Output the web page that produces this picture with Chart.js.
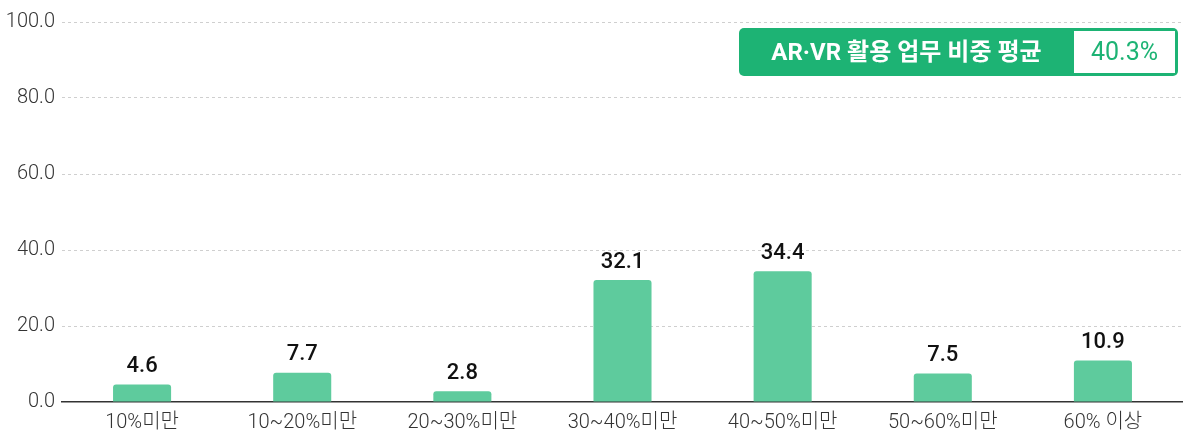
<!DOCTYPE html>
<html>
<head>
<meta charset="utf-8">
<script src="https://cdn.jsdelivr.net/npm/chart.js@4"></script>
<style>
  html, body { margin: 0; padding: 0; background: #fff; }
  #wrap { position: relative; width: 1183px; height: 432px; }
  #avg {
    position: absolute; left: 739px; top: 28px; width: 439px; height: 48px;
    background: #1db374; border-radius: 5px; box-sizing: border-box;
    font-family: Roboto, "Noto Sans CJK KR", sans-serif;
  }
  #avg .title {
    position: absolute; left: 0; top: 0; width: 335px; height: 48px; line-height: 48px;
    text-align: center; color: #fff; font-weight: bold; font-size: 24px;
  }
  #avg .value {
    position: absolute; left: 335px; top: 3px; width: 101px; height: 42px; line-height: 42px;
    background: #fff; color: #1db374; text-align: center; font-size: 25px;
  }
</style>
</head>
<body>
<div id="wrap">
  <canvas id="chart" width="1183" height="432"></canvas>
  <div id="avg"><div class="title">AR·VR 활용 업무 비중 평균</div><div class="value">40.3%</div></div>
</div>
<script>
// 데이터
const categories = ['10%미만', '10~20%미만', '20~30%미만', '30~40%미만', '40~50%미만', '50~60%미만', '60% 이상'];
const shares = [4.6, 7.7, 2.8, 32.1, 34.4, 7.5, 10.9];
const yTicks = [0, 20, 40, 60, 80, 100];

const FONT = 'Roboto, "Noto Sans CJK KR", sans-serif';

// 막대 위 값 표시
const valueLabels = {
  id: 'valueLabels',
  afterDatasetsDraw(chart) {
    const ctx = chart.ctx;
    const meta = chart.getDatasetMeta(0);
    ctx.save();
    ctx.font = '500 22px ' + FONT;
    ctx.fillStyle = '#111';
    ctx.textAlign = 'center';
    ctx.textBaseline = 'bottom';
    meta.data.forEach(function(bar, i) {
      ctx.fillText(shares[i].toFixed(1), bar.x, bar.y - 7);
    });
    ctx.restore();
  }
};

new Chart(document.getElementById('chart'), {
  type: 'bar',
  data: {
    labels: categories,
    datasets: [{
      data: shares,
      backgroundColor: '#5ecb9d',
      borderRadius: { topLeft: 3, topRight: 3 },
      borderSkipped: 'start',
      barPercentage: 0.725,
      categoryPercentage: 0.5
    }]
  },
  options: {
    responsive: false,
    animation: false,
    layout: { padding: { top: 22, right: 0, bottom: 0, left: 0 } },
    plugins: { legend: { display: false }, tooltip: { enabled: false } },
    scales: {
      x: {
        grid: { display: false },
        border: { display: true, color: '#333', width: 1.5 },
        ticks: { color: '#333', font: { family: FONT, size: 20, weight: 300 }, padding: 1, maxRotation: 0 },
        afterFit: function(scale) { scale.height = 30; }
      },
      y: {
        min: 0, max: 100,
        afterBuildTicks: function(scale) { scale.ticks = yTicks.map(v => ({ value: v })); },
        grid: {
          drawTicks: false,
          color: function(c) { return c.tick && c.tick.value === 0 ? 'rgba(0,0,0,0)' : '#cfcfcf'; },
          lineWidth: 1
        },
        border: { display: false, dash: [3, 3] },
        ticks: {
          color: '#333', padding: 7,
          font: { family: FONT, size: 20, weight: 300 },
          callback: function(v) { return Number(v).toFixed(1); }
        },
        afterFit: function(scale) { scale.width = 62; }
      }
    }
  },
  plugins: [valueLabels]
});
</script>
</body>
</html>
